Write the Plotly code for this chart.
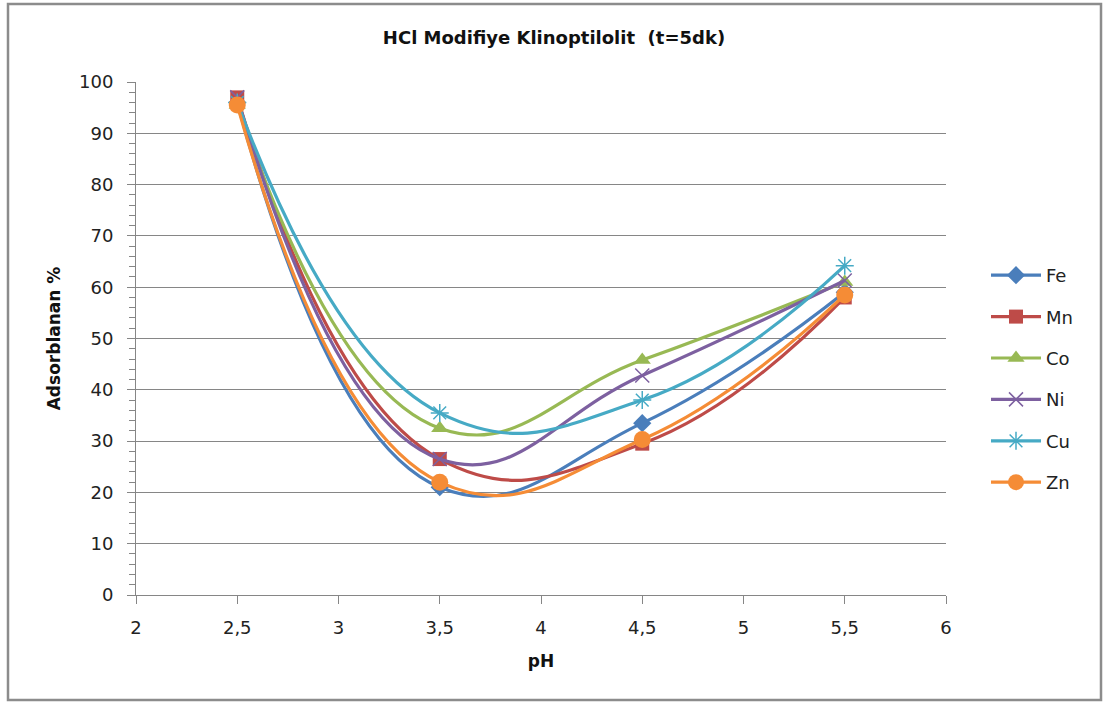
import plotly.graph_objects as go

# pH values and adsorbed percentage per metal
ph = [2.5, 3.5, 4.5, 5.5]
fe = [96.0, 21.0, 33.5, 59.0]
mn = [97.0, 26.5, 29.5, 58.0]
co = [95.5, 32.5, 45.8, 61.0]
ni = [97.0, 26.5, 42.8, 61.3]
cu = [96.0, 35.5, 38.0, 64.2]
zn = [95.5, 22.0, 30.3, 58.5]

series = [
    ("Fe", fe, "#4A7EBB", "diamond", 14),
    ("Mn", mn, "#BE4B48", "square", 14),
    ("Co", co, "#98B954", "triangle-up", 15),
    ("Ni", ni, "#7D60A0", "x-thin-open", 14),
    ("Cu", cu, "#46AAC5", "asterisk-open", 15),
    ("Zn", zn, "#F58C36", "circle", 17),
]

W, H = 1103, 702
L, R, T, B = 136, 946, 82, 595

fig = go.Figure()
for name, vals, color, sym, size in series:
    open_sym = sym.endswith("open")
    fig.add_trace(go.Scatter(
        x=ph, y=vals, name=name, legendgroup=name, mode="lines+markers",
        line=dict(color=color, width=3.2, shape="spline", smoothing=1.3),
        marker=dict(symbol=sym, size=size, color=color,
                    line=dict(color=color, width=1.5 if open_sym else 0)),
    ))

def px_x(p):
    return (p - L) / (R - L)

def px_y(p):
    return (B - p) / (B - T)

font = "'DejaVu Sans', sans-serif"

fig.update_layout(
    width=W, height=H,
    margin=dict(l=L, r=W - R, t=T, b=H - B),
    paper_bgcolor="white", plot_bgcolor="white",
    font=dict(family=font, size=18, color="#222"),
    title=dict(text="<b>HCl Modifiye Klinoptilolit  (t=5dk)</b>",
               x=px_x(554), xref="paper", xanchor="center",
               y=1 - 38 / H, yanchor="middle", font=dict(size=18, color="#111")),
    showlegend=True,
    legend=dict(x=px_x(986), y=px_y(257), xanchor="left", yanchor="top",
                font=dict(size=18, color="#222"), tracegroupgap=15,
                itemwidth=50, bgcolor="rgba(0,0,0,0)"),
    xaxis=dict(range=[2, 6], tickvals=[2, 2.5, 3, 3.5, 4, 4.5, 5, 5.5, 6],
               ticktext=["2", "2,5", "3", "3,5", "4", "4,5", "5", "5,5", "6"],
               showgrid=False, zeroline=False, showline=True,
               linecolor="#868686", linewidth=1, ticks="outside",
               ticklen=8, tickcolor="#868686", ticklabelstandoff=8,
               title=dict(text="<b>pH</b>", font=dict(size=17, color="#111"),
                          standoff=18),
               tickfont=dict(size=18)),
    yaxis=dict(range=[0, 100], dtick=10, showgrid=True, gridcolor="#868686",
               gridwidth=1, zeroline=False, showline=True,
               linecolor="#868686", linewidth=1, ticks="outside",
               ticklen=8, tickcolor="#868686", ticklabelstandoff=10,
               minor=dict(dtick=2, ticks="outside", ticklen=6,
                          tickcolor="#868686", showgrid=False),
               title=dict(text="<b>Adsorblanan %</b>",
                          font=dict(size=17, color="#111"), standoff=14),
               tickfont=dict(size=18)),
)

# outer chart frame
fig.add_shape(type="rect", xref="paper", yref="paper",
              x0=px_x(8), x1=px_x(1101), y0=px_y(700), y1=px_y(4),
              line=dict(color="#8C8C8C", width=2.5), layer="below")

fig.write_html("out.html")
